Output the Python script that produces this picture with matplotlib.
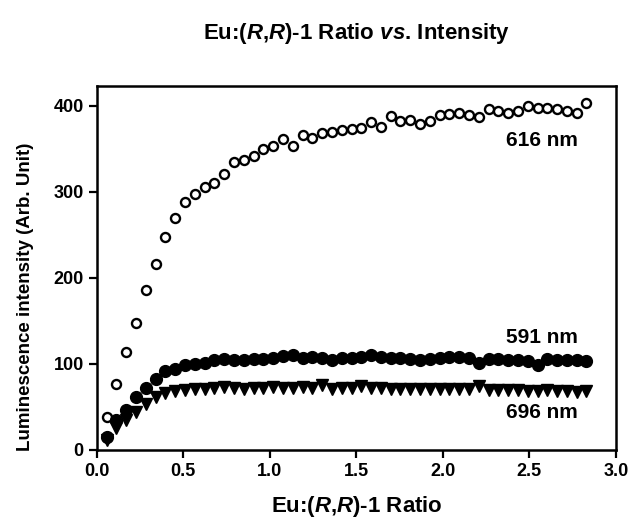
import matplotlib.pyplot as plt

# Eu:(R,R)-1 ratio (x) and luminescence at three wavelengths
ratio = [0.057, 0.113, 0.170, 0.226, 0.283, 0.340, 0.396, 0.453, 0.509, 0.566,
         0.623, 0.679, 0.736, 0.792, 0.849, 0.906, 0.962, 1.019, 1.075, 1.132,
         1.189, 1.245, 1.302, 1.358, 1.415, 1.472, 1.528, 1.585, 1.641, 1.698,
         1.755, 1.811, 1.868, 1.924, 1.981, 2.038, 2.094, 2.151, 2.207, 2.264,
         2.321, 2.377, 2.434, 2.490, 2.547, 2.604, 2.660, 2.717, 2.773, 2.830]

i616 = [38, 77, 114, 147, 186, 216, 248, 270, 288, 298,
        306, 310, 321, 335, 337, 342, 350, 353, 362, 353,
        366, 363, 368, 370, 372, 373, 374, 381, 375, 388,
        382, 384, 379, 383, 389, 391, 392, 389, 387, 396,
        394, 392, 394, 400, 397, 397, 396, 394, 392, 403]

i591 = [15, 35, 47, 61, 72, 82, 92, 94, 99, 100,
        101, 104, 106, 105, 104, 106, 106, 107, 109, 110,
        107, 108, 107, 105, 107, 107, 108, 110, 108, 107,
        107, 106, 105, 106, 107, 108, 108, 107, 101, 106,
        106, 105, 104, 103, 99, 106, 105, 104, 104, 103]

i696 = [11, 25, 35, 44, 53, 62, 66, 69, 70, 71,
        71, 72, 73, 72, 71, 72, 72, 73, 72, 72,
        73, 72, 76, 71, 72, 72, 74, 72, 72, 71,
        71, 71, 71, 71, 71, 71, 71, 71, 74, 70,
        70, 70, 70, 69, 69, 70, 69, 68, 67, 68]

plt.rcParams['font.family'] = ['Liberation Sans', 'DejaVu Sans']
plt.rcParams['font.weight'] = 'bold'
plt.rcParams['axes.labelweight'] = 'bold'
plt.rcParams['axes.titleweight'] = 'bold'
plt.rcParams['mathtext.fontset'] = 'custom'
plt.rcParams['mathtext.rm'] = 'Liberation Sans:bold'
plt.rcParams['mathtext.it'] = 'Liberation Sans:italic:bold'

fig = plt.figure(figsize=(6.33, 5.25), dpi=100)
ax = fig.add_axes([0.153, 0.143, 0.820, 0.693])

ax.plot(ratio, i616, 'o', mfc='white', mec='black', mew=1.7, ms=6.5, ls='none')
ax.plot(ratio, i591, 'o', color='black', ms=8.5, ls='none')
ax.plot(ratio, i696, 'v', color='black', ms=8.5, ls='none')

ax.text(2.57, 360, '616 nm', fontsize=15, ha='center', va='center')
ax.text(2.57, 131, '591 nm', fontsize=15, ha='center', va='center')
ax.text(2.57, 43, '696 nm', fontsize=15, ha='center', va='center')

ax.set_xlim(0, 3.0)
ax.set_ylim(0, 423)
ax.set_xticks([0.0, 0.5, 1.0, 1.5, 2.0, 2.5, 3.0])
ax.set_yticks([0, 100, 200, 300, 400])
ax.tick_params(direction='out', length=6, width=1.6, labelsize=13,
               top=False, right=False)
for s in ax.spines.values():
    s.set_linewidth(1.8)

ax.set_xlabel('Eu:($\\mathit{R}$,$\\mathit{R}$)-1 Ratio', fontsize=16, labelpad=10)
ax.set_ylabel('Luminescence intensity (Arb. Unit)', fontsize=13.5)
ax.yaxis.set_label_coords(-0.122, 0.42)
ax.set_title('Eu:($\\mathit{R}$,$\\mathit{R}$)-1 Ratio $\\mathit{vs}$. Intensity',
             fontsize=16, pad=34)

fig.savefig('out.png', dpi=100)
